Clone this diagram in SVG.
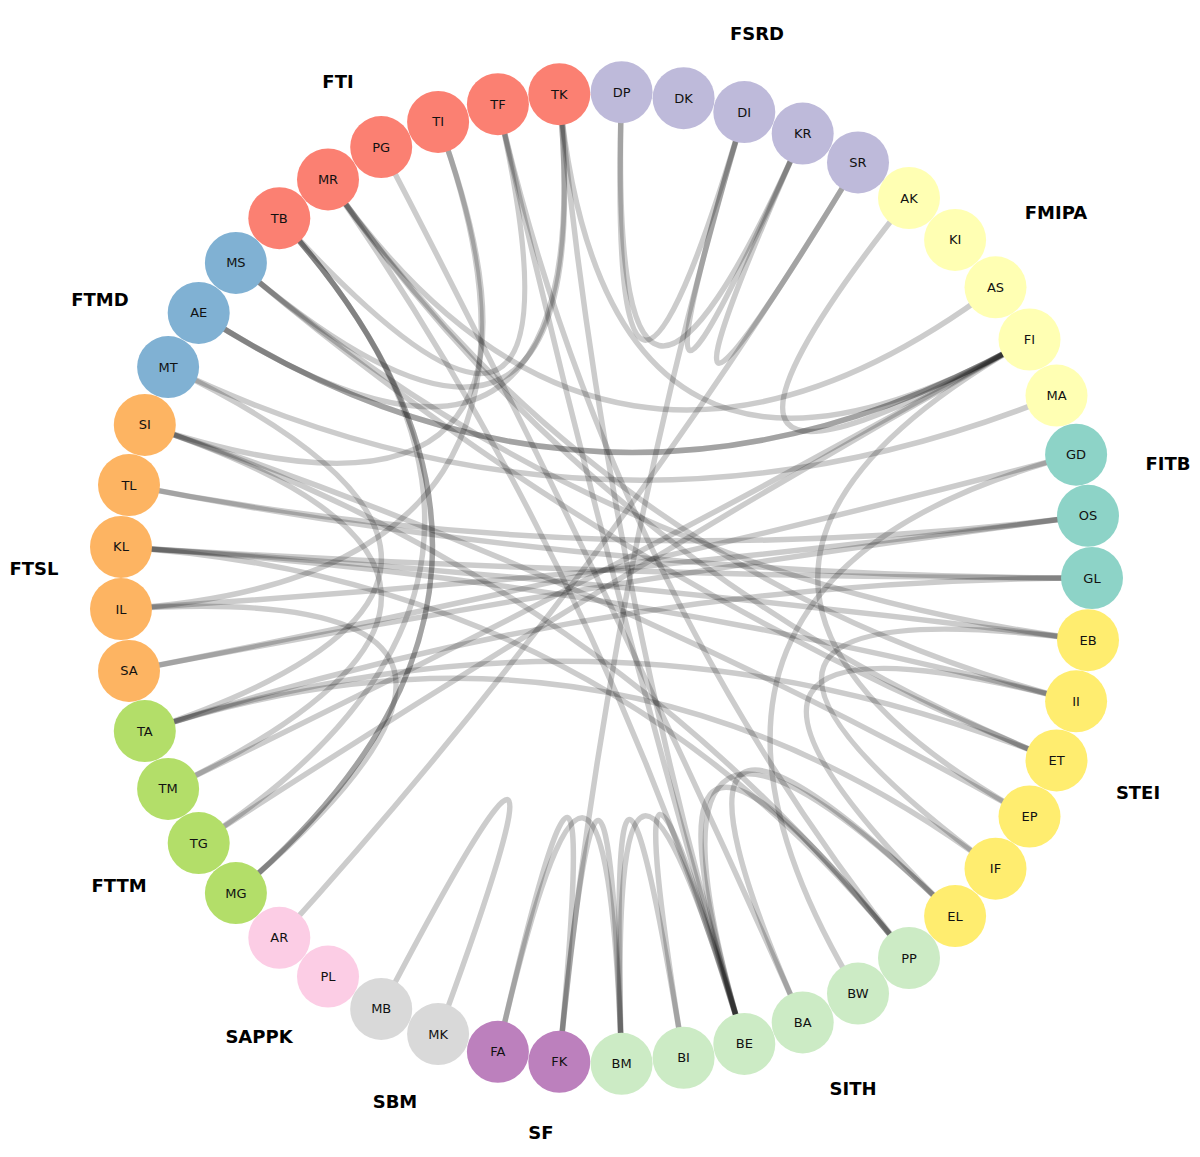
<svg xmlns="http://www.w3.org/2000/svg" width="1200" height="1157" viewBox="0 0 1200 1157">
<style>
.e{fill:none;stroke:#000;stroke-opacity:0.2;stroke-width:5.5;stroke-linecap:round}
.n{stroke:none}
.t{font-family:"DejaVu Sans","Liberation Sans",sans-serif;font-size:13px;fill:#111;text-anchor:middle}
.g{font-family:"DejaVu Sans","Liberation Sans",sans-serif;font-size:18px;font-weight:bold;fill:#000;text-anchor:middle}
.fsrd{fill:#bebada}.fmipa{fill:#ffffb3}.fitb{fill:#8dd3c7}.stei{fill:#ffed6f}.sith{fill:#ccebc5}.sf{fill:#bc80bd}.sbm{fill:#d9d9d9}.sappk{fill:#fccde5}.fttm{fill:#b3de69}.ftsl{fill:#fdb462}.ftmd{fill:#80b1d3}.fti{fill:#fb8072}
</style>
<rect width="1200" height="1157" fill="#fff"/>
<g id="edges">
<path class="e" d="M621.6 92.2 Q606 578 744.3 112.1"/>
<path class="e" d="M621.6 92.2 Q606 578 802.7 133.6"/>
<path class="e" d="M744.3 112.1 Q606 578 802.7 133.6"/>
<path class="e" d="M802.7 133.6 Q606 578 858 162.4"/>
<path class="e" d="M858 162.4 Q606 578 279.3 937.8"/>
<path class="e" d="M744.3 112.1 Q606 578 559.3 1061.8"/>
<path class="e" d="M909 198 Q606 578 1029.5 339.5"/>
<path class="e" d="M995.5 287.3 Q606 578 328 179.4"/>
<path class="e" d="M1029.5 339.5 Q606 578 198.7 312.9"/>
<path class="e" d="M1029.5 339.5 Q606 578 198.7 312.9"/>
<path class="e" d="M1029.5 339.5 Q606 578 559.3 94.2"/>
<path class="e" d="M1029.5 339.5 Q606 578 198.7 843.1"/>
<path class="e" d="M1029.5 339.5 Q606 578 168.1 788.9"/>
<path class="e" d="M1029.5 339.5 Q606 578 1029.5 816.5"/>
<path class="e" d="M1056.5 395.6 Q606 578 168.1 367.1"/>
<path class="e" d="M1076.1 454.7 Q606 578 129 670.9"/>
<path class="e" d="M1076.1 454.7 Q606 578 858 993.6"/>
<path class="e" d="M1088 515.8 Q606 578 121 609.1"/>
<path class="e" d="M1088 515.8 Q606 578 129 670.9"/>
<path class="e" d="M1088 515.8 Q606 578 129 485.1"/>
<path class="e" d="M1092 578 Q606 578 121 546.9"/>
<path class="e" d="M1092 578 Q606 578 129 485.1"/>
<path class="e" d="M1092 578 Q606 578 144.8 731.1"/>
<path class="e" d="M1088 640.2 Q606 578 121 546.9"/>
<path class="e" d="M1088 640.2 Q606 578 235.9 262.9"/>
<path class="e" d="M1088 640.2 Q606 578 995.5 868.7"/>
<path class="e" d="M1076.1 701.3 Q606 578 121 546.9"/>
<path class="e" d="M1076.1 701.3 Q606 578 328 179.4"/>
<path class="e" d="M1076.1 701.3 Q606 578 955.1 916.1"/>
<path class="e" d="M1056.5 760.4 Q606 578 144.8 731.1"/>
<path class="e" d="M1056.5 760.4 Q606 578 235.9 262.9"/>
<path class="e" d="M1056.5 760.4 Q606 578 328 179.4"/>
<path class="e" d="M1029.5 816.5 Q606 578 144.8 424.9"/>
<path class="e" d="M995.5 868.7 Q606 578 144.8 731.1"/>
<path class="e" d="M955.1 916.1 Q606 578 744.3 1043.9"/>
<path class="e" d="M955.1 916.1 Q606 578 802.7 1022.4"/>
<path class="e" d="M909 958 Q606 578 744.3 1043.9"/>
<path class="e" d="M909 958 Q606 578 497.9 104.2"/>
<path class="e" d="M909 958 Q606 578 144.8 424.9"/>
<path class="e" d="M909 958 Q606 578 121 546.9"/>
<path class="e" d="M744.3 1043.9 Q606 578 497.9 104.2"/>
<path class="e" d="M744.3 1043.9 Q606 578 559.3 94.2"/>
<path class="e" d="M744.3 1043.9 Q606 578 621.6 1063.8"/>
<path class="e" d="M744.3 1043.9 Q606 578 683.6 1057.8"/>
<path class="e" d="M744.3 1043.9 Q606 578 328 179.4"/>
<path class="e" d="M621.6 1063.8 Q606 578 683.6 1057.8"/>
<path class="e" d="M621.6 1063.8 Q606 578 559.3 1061.8"/>
<path class="e" d="M621.6 1063.8 Q606 578 497.9 1051.8"/>
<path class="e" d="M497.9 1051.8 Q606 578 559.3 1061.8"/>
<path class="e" d="M802.7 1022.4 Q606 578 381.2 147.1"/>
<path class="e" d="M381.2 1008.9 Q606 578 438.1 1034.1"/>
<path class="e" d="M235.9 893.1 Q606 578 279.3 218.2"/>
<path class="e" d="M235.9 893.1 Q606 578 279.3 218.2"/>
<path class="e" d="M198.7 843.1 Q606 578 279.3 218.2"/>
<path class="e" d="M559.3 94.2 Q606 578 235.9 262.9"/>
<path class="e" d="M559.3 94.2 Q606 578 198.7 312.9"/>
<path class="e" d="M497.9 104.2 Q606 578 279.3 218.2"/>
<path class="e" d="M438.1 121.9 Q606 578 144.8 424.9"/>
<path class="e" d="M438.1 121.9 Q606 578 121 609.1"/>
<path class="e" d="M168.1 367.1 Q606 578 144.8 731.1"/>
<path class="e" d="M144.8 424.9 Q606 578 168.1 788.9"/>
<path class="e" d="M121 609.1 Q606 578 235.9 893.1"/>
</g>
<g id="node-GL"><circle class="n fitb" cx="1092" cy="578" r="31"/><text class="t" x="1092" y="582.5">GL</text></g>
<g id="node-OS"><circle class="n fitb" cx="1088" cy="515.8" r="31"/><text class="t" x="1088" y="520.3">OS</text></g>
<g id="node-GD"><circle class="n fitb" cx="1076.1" cy="454.7" r="31"/><text class="t" x="1076.1" y="459.2">GD</text></g>
<g id="node-MA"><circle class="n fmipa" cx="1056.5" cy="395.6" r="31"/><text class="t" x="1056.5" y="400.1">MA</text></g>
<g id="node-FI"><circle class="n fmipa" cx="1029.5" cy="339.5" r="31"/><text class="t" x="1029.5" y="344">FI</text></g>
<g id="node-AS"><circle class="n fmipa" cx="995.5" cy="287.3" r="31"/><text class="t" x="995.5" y="291.8">AS</text></g>
<g id="node-KI"><circle class="n fmipa" cx="955.1" cy="239.9" r="31"/><text class="t" x="955.1" y="244.4">KI</text></g>
<g id="node-AK"><circle class="n fmipa" cx="909" cy="198" r="31"/><text class="t" x="909" y="202.5">AK</text></g>
<g id="node-SR"><circle class="n fsrd" cx="858" cy="162.4" r="31"/><text class="t" x="858" y="166.9">SR</text></g>
<g id="node-KR"><circle class="n fsrd" cx="802.7" cy="133.6" r="31"/><text class="t" x="802.7" y="138.1">KR</text></g>
<g id="node-DI"><circle class="n fsrd" cx="744.3" cy="112.1" r="31"/><text class="t" x="744.3" y="116.6">DI</text></g>
<g id="node-DK"><circle class="n fsrd" cx="683.6" cy="98.2" r="31"/><text class="t" x="683.6" y="102.7">DK</text></g>
<g id="node-DP"><circle class="n fsrd" cx="621.6" cy="92.2" r="31"/><text class="t" x="621.6" y="96.7">DP</text></g>
<g id="node-TK"><circle class="n fti" cx="559.3" cy="94.2" r="31"/><text class="t" x="559.3" y="98.7">TK</text></g>
<g id="node-TF"><circle class="n fti" cx="497.9" cy="104.2" r="31"/><text class="t" x="497.9" y="108.7">TF</text></g>
<g id="node-TI"><circle class="n fti" cx="438.1" cy="121.9" r="31"/><text class="t" x="438.1" y="126.4">TI</text></g>
<g id="node-PG"><circle class="n fti" cx="381.2" cy="147.1" r="31"/><text class="t" x="381.2" y="151.6">PG</text></g>
<g id="node-MR"><circle class="n fti" cx="328" cy="179.4" r="31"/><text class="t" x="328" y="183.9">MR</text></g>
<g id="node-TB"><circle class="n fti" cx="279.3" cy="218.2" r="31"/><text class="t" x="279.3" y="222.7">TB</text></g>
<g id="node-MS"><circle class="n ftmd" cx="235.9" cy="262.9" r="31"/><text class="t" x="235.9" y="267.4">MS</text></g>
<g id="node-AE"><circle class="n ftmd" cx="198.7" cy="312.9" r="31"/><text class="t" x="198.7" y="317.4">AE</text></g>
<g id="node-MT"><circle class="n ftmd" cx="168.1" cy="367.1" r="31"/><text class="t" x="168.1" y="371.6">MT</text></g>
<g id="node-SI"><circle class="n ftsl" cx="144.8" cy="424.9" r="31"/><text class="t" x="144.8" y="429.4">SI</text></g>
<g id="node-TL"><circle class="n ftsl" cx="129" cy="485.1" r="31"/><text class="t" x="129" y="489.6">TL</text></g>
<g id="node-KL"><circle class="n ftsl" cx="121" cy="546.9" r="31"/><text class="t" x="121" y="551.4">KL</text></g>
<g id="node-IL"><circle class="n ftsl" cx="121" cy="609.1" r="31"/><text class="t" x="121" y="613.6">IL</text></g>
<g id="node-SA"><circle class="n ftsl" cx="129" cy="670.9" r="31"/><text class="t" x="129" y="675.4">SA</text></g>
<g id="node-TA"><circle class="n fttm" cx="144.8" cy="731.1" r="31"/><text class="t" x="144.8" y="735.6">TA</text></g>
<g id="node-TM"><circle class="n fttm" cx="168.1" cy="788.9" r="31"/><text class="t" x="168.1" y="793.4">TM</text></g>
<g id="node-TG"><circle class="n fttm" cx="198.7" cy="843.1" r="31"/><text class="t" x="198.7" y="847.6">TG</text></g>
<g id="node-MG"><circle class="n fttm" cx="235.9" cy="893.1" r="31"/><text class="t" x="235.9" y="897.6">MG</text></g>
<g id="node-AR"><circle class="n sappk" cx="279.3" cy="937.8" r="31"/><text class="t" x="279.3" y="942.3">AR</text></g>
<g id="node-PL"><circle class="n sappk" cx="328" cy="976.6" r="31"/><text class="t" x="328" y="981.1">PL</text></g>
<g id="node-MB"><circle class="n sbm" cx="381.2" cy="1008.9" r="31"/><text class="t" x="381.2" y="1013.4">MB</text></g>
<g id="node-MK"><circle class="n sbm" cx="438.1" cy="1034.1" r="31"/><text class="t" x="438.1" y="1038.6">MK</text></g>
<g id="node-FA"><circle class="n sf" cx="497.9" cy="1051.8" r="31"/><text class="t" x="497.9" y="1056.3">FA</text></g>
<g id="node-FK"><circle class="n sf" cx="559.3" cy="1061.8" r="31"/><text class="t" x="559.3" y="1066.3">FK</text></g>
<g id="node-BM"><circle class="n sith" cx="621.6" cy="1063.8" r="31"/><text class="t" x="621.6" y="1068.3">BM</text></g>
<g id="node-BI"><circle class="n sith" cx="683.6" cy="1057.8" r="31"/><text class="t" x="683.6" y="1062.3">BI</text></g>
<g id="node-BE"><circle class="n sith" cx="744.3" cy="1043.9" r="31"/><text class="t" x="744.3" y="1048.4">BE</text></g>
<g id="node-BA"><circle class="n sith" cx="802.7" cy="1022.4" r="31"/><text class="t" x="802.7" y="1026.9">BA</text></g>
<g id="node-BW"><circle class="n sith" cx="858" cy="993.6" r="31"/><text class="t" x="858" y="998.1">BW</text></g>
<g id="node-PP"><circle class="n sith" cx="909" cy="958" r="31"/><text class="t" x="909" y="962.5">PP</text></g>
<g id="node-EL"><circle class="n stei" cx="955.1" cy="916.1" r="31"/><text class="t" x="955.1" y="920.6">EL</text></g>
<g id="node-IF"><circle class="n stei" cx="995.5" cy="868.7" r="31"/><text class="t" x="995.5" y="873.2">IF</text></g>
<g id="node-EP"><circle class="n stei" cx="1029.5" cy="816.5" r="31"/><text class="t" x="1029.5" y="821">EP</text></g>
<g id="node-ET"><circle class="n stei" cx="1056.5" cy="760.4" r="31"/><text class="t" x="1056.5" y="764.9">ET</text></g>
<g id="node-II"><circle class="n stei" cx="1076.1" cy="701.3" r="31"/><text class="t" x="1076.1" y="705.8">II</text></g>
<g id="node-EB"><circle class="n stei" cx="1088" cy="640.2" r="31"/><text class="t" x="1088" y="644.7">EB</text></g>
<g id="labels">
<text class="g" x="757" y="40">FSRD</text>
<text class="g" x="1056" y="219">FMIPA</text>
<text class="g" x="1168" y="470">FITB</text>
<text class="g" x="1138" y="799">STEI</text>
<text class="g" x="853" y="1095">SITH</text>
<text class="g" x="541" y="1139">SF</text>
<text class="g" x="395" y="1108">SBM</text>
<text class="g" x="259" y="1043">SAPPK</text>
<text class="g" x="119" y="892">FTTM</text>
<text class="g" x="34" y="575">FTSL</text>
<text class="g" x="100" y="306">FTMD</text>
<text class="g" x="338" y="88">FTI</text>
</g>
</svg>
